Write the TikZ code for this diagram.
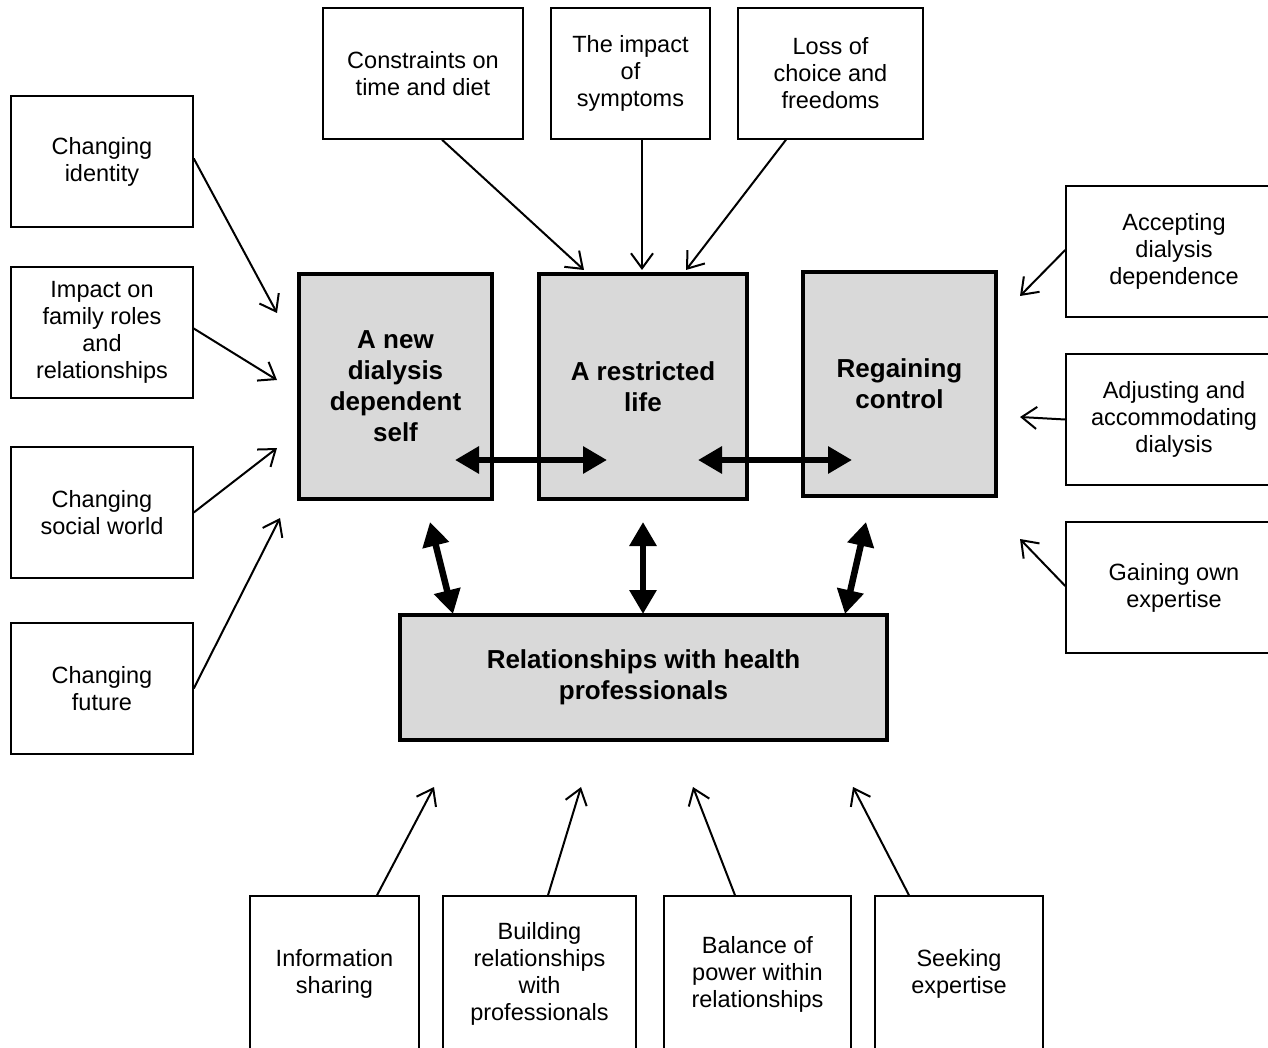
\documentclass[tikz,border=0pt]{standalone}
\usepackage{fontspec}
\setmainfont{Liberation Sans}
\usetikzlibrary{arrows.meta}
\definecolor{boxgray}{HTML}{D9D9D9}
\begin{document}
\begin{tikzpicture}[x=1pt,y=-1pt,
  sbox/.style={draw, line width=1.5pt, align=center, inner sep=0pt,
    font=\fontsize{23.5}{27}\selectfont},
  mbox/.style={draw, line width=3.5pt, fill=boxgray, align=center, inner sep=0pt,
    font=\fontsize{26}{31}\selectfont\bfseries},
  thinarrow/.style={line width=2pt, -{Straight Barb[length=15pt,width=22pt]}},
  bigarrow/.style={line width=6.5pt,
    {Triangle[length=24pt,width=26pt]}-{Triangle[length=24pt,width=26pt]}}]
\useasboundingbox (0,0) rectangle (1268,1048);
\clip (0,0) rectangle (1268,1048);
% left boxes
\node[sbox, minimum width=182pt, minimum height=131pt] (ident) at (102,161.5) {Changing\\identity};
\node[sbox, minimum width=182pt, minimum height=131pt] (fam) at (102,332.5) {Impact on\\family roles\\and\\relationships};
\node[sbox, minimum width=182pt, minimum height=131pt] (soc) at (102,512.5) {Changing\\social world};
\node[sbox, minimum width=182pt, minimum height=131pt] (fut) at (102,688.5) {Changing\\future};
% top boxes
\node[sbox, minimum width=200pt, minimum height=131pt] (con) at (423,73.5) {Constraints on\\time and diet};
\node[sbox, minimum width=159pt, minimum height=131pt] (sym) at (630.5,73.5) {The impact\\of\\symptoms};
\node[sbox, minimum width=185pt, minimum height=131pt] (loss) at (830.5,73.5) {Loss of\\choice and\\freedoms};
% right boxes
\node[sbox, minimum width=216pt, minimum height=131pt] (acc) at (1174,251.5) {Accepting\\dialysis\\dependence};
\node[sbox, minimum width=216pt, minimum height=131pt] (adj) at (1174,419.5) {Adjusting and\\accommodating\\dialysis};
\node[sbox, minimum width=216pt, minimum height=131pt] (gain) at (1174,587.5) {Gaining own\\expertise};
% bottom boxes
\node[sbox, minimum width=169pt, minimum height=156pt] (info) at (334.5,974) {Information\\sharing};
\node[sbox, minimum width=193pt, minimum height=156pt] (build) at (539.5,974) {Building\\relationships\\with\\professionals};
\node[sbox, minimum width=187pt, minimum height=156pt] (bal) at (757.5,974) {Balance of\\power within\\relationships};
\node[sbox, minimum width=168pt, minimum height=156pt] (seek) at (959,974) {Seeking\\expertise};
% main boxes
\node[mbox, minimum width=193pt, minimum height=225pt] (self) at (395.5,386.5) {A new\\dialysis\\dependent\\self};
\node[mbox, minimum width=208pt, minimum height=225pt] (life) at (643,386.5) {A restricted\\life};
\node[mbox, minimum width=193pt, minimum height=224pt] (ctrl) at (899.5,384) {Regaining\\control};
\node[mbox, minimum width=487pt, minimum height=125pt] (rel) at (643.5,677.5) {Relationships with health\\professionals};
% free ends
\coordinate (eident) at (277,313);
\coordinate (efam) at (277,380);
\coordinate (esoc) at (277,448);
\coordinate (efut) at (280,518);
\coordinate (econ) at (584,270);
\coordinate (esym) at (642,270);
\coordinate (eloss) at (686,270);
\coordinate (eacc) at (1020,296);
\coordinate (eadj) at (1020,417);
\coordinate (egain) at (1020,539);
\coordinate (einfo) at (434,787);
\coordinate (ebuild) at (581,787);
\coordinate (ebal) at (693,787);
\coordinate (eseek) at (853,787);
% thin arrows
\draw[thinarrow] ([yshift=3pt]ident.east) -- (eident);
\draw[thinarrow] ([yshift=4pt]fam.east) -- (efam);
\draw[thinarrow] (soc.east) -- (esoc);
\draw[thinarrow] (fut.east) -- (efut);
\draw[thinarrow] ([xshift=19pt]con.south) -- (econ);
\draw[thinarrow] ([xshift=11.5pt]sym.south) -- (esym);
\draw[thinarrow] ([xshift=-44.5pt]loss.south) -- (eloss);
\draw[thinarrow] ([yshift=1.5pt]acc.west) -- (eacc);
\draw[thinarrow] (adj.west) -- (eadj);
\draw[thinarrow] ([yshift=1.5pt]gain.west) -- (egain);
\draw[thinarrow] ([xshift=42.5pt]info.north) -- (einfo);
\draw[thinarrow] ([xshift=8.5pt]build.north) -- (ebuild);
\draw[thinarrow] ([xshift=-22.5pt]bal.north) -- (ebal);
\draw[thinarrow] ([xshift=-50pt]seek.north) -- (eseek);
% thick double arrows
\coordinate (h1a) at (455,460);
\coordinate (h1b) at (607,460);
\coordinate (h2a) at (698,460);
\coordinate (h2b) at (852,460);
\coordinate (v1a) at (430,522);
\coordinate (v1b) at (453,614);
\coordinate (v2a) at (643,522);
\coordinate (v2b) at (643,614);
\coordinate (v3a) at (866,522);
\coordinate (v3b) at (845,614);
\draw[bigarrow] (h1a) -- (h1b);
\draw[bigarrow] (h2a) -- (h2b);
\draw[bigarrow] (v1a) -- (v1b);
\draw[bigarrow] (v2a) -- (v2b);
\draw[bigarrow] (v3a) -- (v3b);
\end{tikzpicture}
\end{document}
